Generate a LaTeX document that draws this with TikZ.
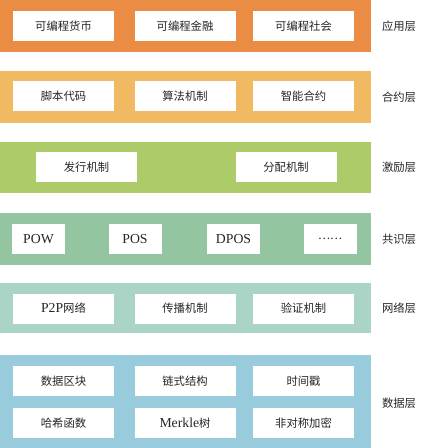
\documentclass[tikz,border=0pt]{standalone}
\usepackage{fontspec}
\setmainfont{Liberation Serif}
\newfontfamily\cjk{Noto Sans CJK SC}
\newcommand\zh{\cjk\fontsize{8.5}{10}\selectfont}
\usepackage{tikz}
\usetikzlibrary{positioning}
\definecolor{appcol}{HTML}{EA8C43}
\definecolor{concol}{HTML}{F0B962}
\definecolor{inccol}{HTML}{AECB6A}
\definecolor{conscol}{HTML}{92C5A0}
\definecolor{netcol}{HTML}{AAD5C6}
\definecolor{datacol}{HTML}{98CCDD}

\begin{document}
\begin{tikzpicture}[
    x=0.75pt, y=-0.75pt,
    every node/.style={font=\fontsize{10.3}{12}\selectfont, text=black!85},
    item/.style={fill=white, inner sep=0pt, minimum width=75.75pt, minimum height=22.5pt},
    smallitem/.style={item, minimum width=39.75pt},
    layer/.style={anchor=center, inner sep=0pt, font=\zh}
]
    \useasboundingbox (0,0) rectangle (420,448);

    % layer bands
    \fill[appcol]  (0,0)   rectangle (371,52);
    \fill[concol]  (0,71)  rectangle (371,123);
    \fill[inccol]  (0,142) rectangle (371,193);
    \fill[conscol] (0,213) rectangle (371,265);
    \fill[netcol]  (0,283) rectangle (371,333);
    \fill[datacol] (0,355) rectangle (371,448);

    % application
    \node[item] (a1) at (63.5,26) {\zh 可编程货币};
    \node[item] (a2) at (185,26) {\zh 可编程金融};
    \node[item] (a3) at (303.5,26) {\zh 可编程社会};
    \node[layer] (la) at (399,26) {应用层};

    % contract
    \node[item] (c1) at (63.5,96.5) {\zh 脚本代码};
    \node[item] (c2) at (185,96.5) {\zh 算法机制};
    \node[item] (c3) at (303.5,96.5) {\zh 智能合约};
    \node[layer] (lc) at (399,97) {合约层};

    % incentive
    \node[item] (i1) at (86.5,167.5) {\zh 发行机制};
    \node[item] (i2) at (286,167.5) {\zh 分配机制};
    \node[layer] (li) at (399,167.5) {激励层};

    % consensus
    \node[smallitem] (s1) at (38.5,239) {POW};
    \node[smallitem] (s2) at (135,239) {POS};
    \node[smallitem] (s3) at (233.5,239) {DPOS};
    \node[smallitem] (s4) at (330,239) {\zh ……};
    \node[layer] (ls) at (399,239) {共识层};

    % network
    \node[item] (n1) at (63.5,308.5) {P2P{\zh 网络}};
    \node[item] (n2) at (185,308.5) {\zh 传播机制};
    \node[item] (n3) at (303.5,308.5) {\zh 验证机制};
    \node[layer] (ln) at (399,308.5) {网络层};

    % data
    \node[item] (d1) at (63.5,381) {\zh 数据区块};
    \node[item] (d2) at (185,381) {\zh 链式结构};
    \node[item] (d3) at (303.5,381) {\zh 时间戳};
    \node[item] (d4) at (63.5,423) {\zh 哈希函数};
    \node[item] (d5) at (185,423) {Merkle{\zh 树}};
    \node[item] (d6) at (303.5,423) {\zh 非对称加密};
    \node[layer] (ld) at (399,403) {数据层};
\end{tikzpicture}
\end{document}
